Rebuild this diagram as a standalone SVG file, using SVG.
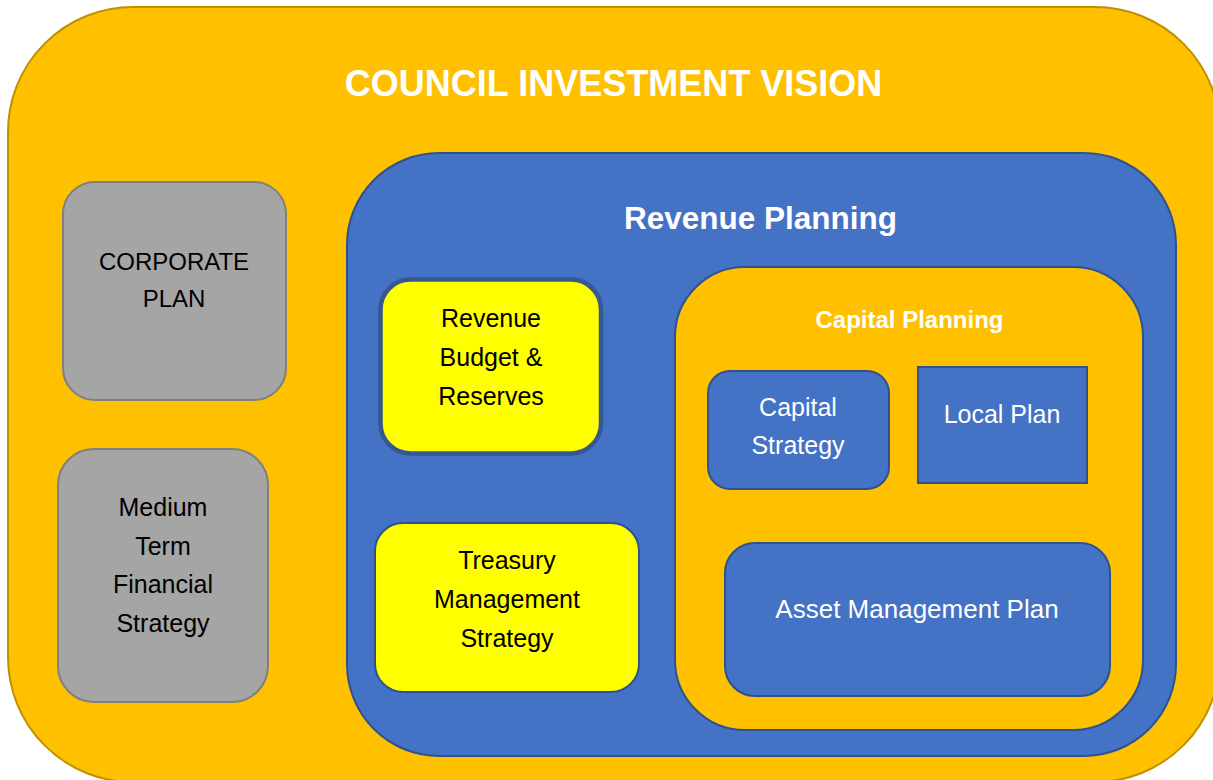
<svg xmlns="http://www.w3.org/2000/svg" width="1213" height="780" viewBox="0 0 1213 780">
<style>
  text { font-family: "Liberation Sans", Arial, sans-serif; text-anchor: middle; }
  .title { font-size: 36px; font-weight: bold; fill: #FFFFFF; }
  .h2 { font-size: 31.5px; font-weight: bold; fill: #FFFFFF; }
  .h3 { font-size: 24px; font-weight: bold; fill: #FFFFFF; }
  .dark { font-size: 25px; fill: #000000; }
  .caps { font-size: 24px; fill: #000000; }
  .light { font-size: 25px; fill: #FFFFFF; }
  .wide { font-size: 26px; fill: #FFFFFF; }
  .orange { fill: #FFC000; stroke: #BF9000; stroke-width: 2; }
  .blue { fill: #4472C4; stroke: #2F528F; stroke-width: 2; }
  .orange2 { fill: #FFC000; stroke: #2F528F; stroke-width: 2; }
  .gray { fill: #A5A5A5; stroke: #7F7F7F; stroke-width: 2; }
  .yellow { fill: #FFFF00; stroke: #2F528F; stroke-width: 2; }
</style>
<g id="council-investment-vision">
  <rect class="orange" x="8" y="7" width="1212" height="775" rx="125" ry="125"/>
  <text class="title" x="613.5" y="96">COUNCIL INVESTMENT VISION</text>
</g>
<g id="corporate-plan">
  <rect class="gray" x="63" y="182" width="223" height="218" rx="32" ry="32"/>
  <text class="caps" x="174" y="270">CORPORATE</text>
  <text class="caps" x="174" y="307">PLAN</text>
</g>
<g id="medium-term-financial-strategy">
  <rect class="gray" x="58" y="449" width="210" height="253" rx="36" ry="36"/>
  <text class="dark" x="163" y="516">Medium</text>
  <text class="dark" x="163" y="555">Term</text>
  <text class="dark" x="163" y="593">Financial</text>
  <text class="dark" x="163" y="632">Strategy</text>
</g>
<g id="revenue-planning">
  <rect class="blue" x="347" y="153" width="829" height="603" rx="92" ry="92"/>
  <text class="h2" x="760.5" y="229">Revenue Planning</text>
</g>
<g id="revenue-budget-reserves">
  <rect x="380.5" y="279.5" width="220.5" height="174" rx="30" ry="30" fill="#FFFF00" stroke="#35598F" stroke-width="4.5"/>
  <text class="dark" x="491" y="327">Revenue</text>
  <text class="dark" x="491" y="366">Budget &amp;</text>
  <text class="dark" x="491" y="405">Reserves</text>
</g>
<g id="treasury-management-strategy">
  <rect class="yellow" x="375" y="523" width="264" height="169" rx="28" ry="28"/>
  <text class="dark" x="507" y="569">Treasury</text>
  <text class="dark" x="507" y="608">Management</text>
  <text class="dark" x="507" y="647">Strategy</text>
</g>
<g id="capital-planning">
  <rect class="orange2" x="675" y="267" width="468" height="463" rx="70" ry="70"/>
  <text class="h3" x="909.5" y="328">Capital Planning</text>
</g>
<g id="capital-strategy">
  <rect class="blue" x="708" y="371" width="181" height="118" rx="22" ry="22"/>
  <text class="light" x="798" y="416">Capital</text>
  <text class="light" x="798" y="454">Strategy</text>
</g>
<g id="local-plan">
  <rect class="blue" x="918" y="367" width="169" height="116"/>
  <text class="light" x="1002" y="423">Local Plan</text>
</g>
<g id="asset-management-plan">
  <rect class="blue" x="725" y="543" width="385" height="153" rx="30" ry="30"/>
  <text class="wide" x="917" y="618">Asset Management Plan</text>
</g>
<g id="connectors"></g>
</svg>
